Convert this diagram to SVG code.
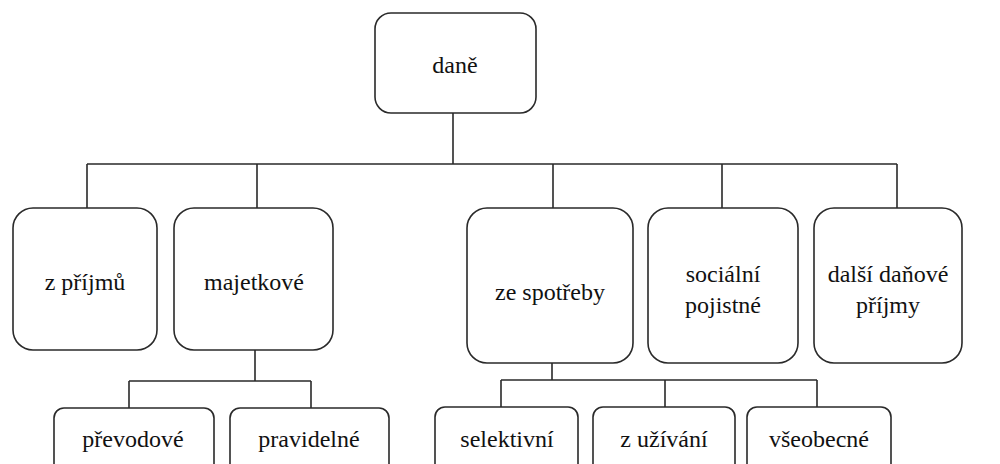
<svg xmlns="http://www.w3.org/2000/svg" width="1000" height="464" viewBox="0 0 1000 464">
<style>
.box{fill:#fff;stroke:#2a2a2a;stroke-width:1.6}
.ln{fill:none;stroke:#2a2a2a;stroke-width:1.6}
</style>
<rect width="1000" height="464" fill="#fff"/>
<g id="connectors">
<path class="ln" d="M453,113 V164 M87,164 H897 M87,164 V208 M257,164 V208 M553,164 V208 M722,164 V208 M897,164 V208"/>
<path class="ln" d="M255,350 V381 M129,381 H311 M129,381 V408 M311,381 V408"/>
<path class="ln" d="M552,363 V380 M501,380 H817 M501,380 V407 M665,380 V407 M817,380 V407"/>
</g>
<g font-family="Liberation Serif, Times New Roman, DejaVu Serif, serif" font-size="24" fill="#111" text-anchor="middle">
<g id="dane"><rect class="box" x="375" y="13" width="161" height="100" rx="16"/><text x="455" y="73">daně</text></g>
<g id="z-prijmu"><rect class="box" x="13" y="208" width="144" height="142" rx="20"/><text x="85" y="290">z příjmů</text></g>
<g id="majetkove"><rect class="box" x="174" y="208" width="159" height="142" rx="20"/><text x="254" y="290">majetkové</text></g>
<g id="ze-spotreby"><rect class="box" x="467" y="208" width="166" height="155" rx="20"/><text x="550" y="300">ze spotřeby</text></g>
<g id="socialni"><rect class="box" x="648" y="208" width="150" height="155" rx="20"/><text x="723" y="282">sociální</text><text x="723" y="313">pojistné</text></g>
<g id="dalsi"><rect class="box" x="814" y="208" width="148" height="155" rx="20"/><text x="888" y="282">další daňové</text><text x="888" y="313">příjmy</text></g>
<g id="prevodove"><rect class="box" x="54" y="408" width="160" height="70" rx="10"/><text x="133" y="447">převodové</text></g>
<g id="pravidelne"><rect class="box" x="230" y="408" width="159" height="70" rx="10"/><text x="309" y="447">pravidelné</text></g>
<g id="selektivni"><rect class="box" x="435" y="407" width="143" height="70" rx="10"/><text x="507" y="447">selektivní</text></g>
<g id="z-uzivani"><rect class="box" x="593" y="407" width="142" height="70" rx="10"/><text x="664" y="447">z užívání</text></g>
<g id="vseobecne"><rect class="box" x="747" y="407" width="144" height="70" rx="10"/><text x="819" y="447">všeobecné</text></g>
</g>
</svg>
